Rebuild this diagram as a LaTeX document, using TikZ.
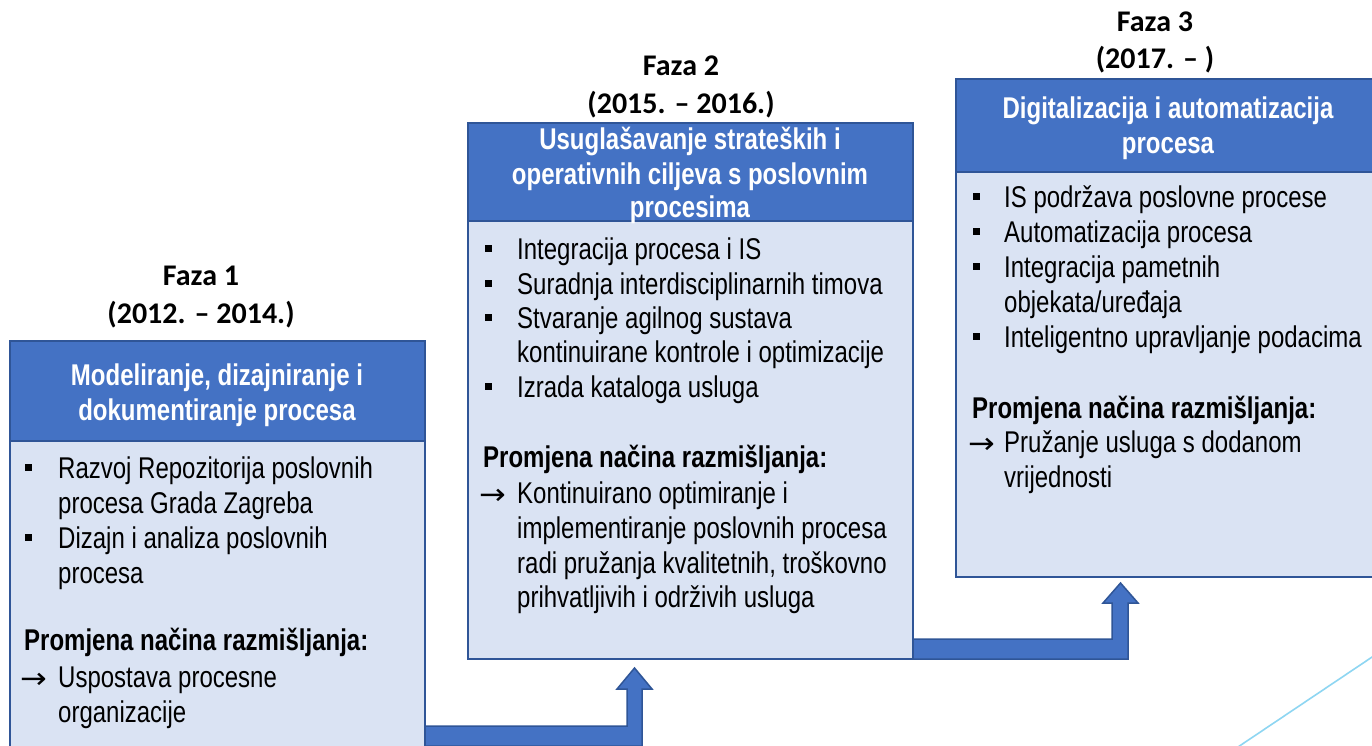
\documentclass[tikz,border=0pt]{standalone}
\usepackage{fontspec}
\newfontfamily\bodyfont{Liberation Sans}[FakeStretch=0.8]
\newfontfamily\fazafont{Carlito}
\newfontfamily\symfont{DejaVu Sans}[FakeStretch=1.1]
\definecolor{hdr}{HTML}{4472C4}
\definecolor{bodyfill}{HTML}{DAE3F3}
\definecolor{edge}{HTML}{2F5597}
\definecolor{sky}{HTML}{8ED6F2}
\tikzset{
 boxbody/.style={draw=edge, line width=1.8pt, fill=bodyfill, anchor=north west, inner sep=0pt, outer sep=0pt},
 boxhead/.style={draw=edge, line width=1.8pt, fill=hdr, anchor=north west, inner sep=0pt, outer sep=0pt},
 fazatxt/.style={font=\fazafont\bfseries\fontsize{30}{38}\selectfont, anchor=base, inner sep=0pt},
 headtxt/.style={font=\bodyfont\bfseries\fontsize{30}{35}\selectfont, text=white, anchor=base, inner sep=0pt},
 bodytxt/.style={font=\bodyfont\fontsize{30}{35}\selectfont, anchor=base west, inner sep=0pt},
 boldtxt/.style={font=\bodyfont\bfseries\fontsize{30}{35}\selectfont, anchor=base west, inner sep=0pt},
 arrtxt/.style={font=\symfont\fontsize{29}{29}\selectfont, anchor=base west, inner sep=0pt},
 bulletsq/.style={fill=black, minimum size=7pt, inner sep=0pt, anchor=center},
 flow/.style={fill=hdr, draw=edge, line width=1.5pt, line join=miter},
}
\begin{document}
\begin{tikzpicture}[x=1pt, y=-1pt]
\useasboundingbox (0,0) rectangle (1372,745);
\clip (0,0) rectangle (1372,745);
\fill[white] (0,0) rectangle (1372,745);

% decorative line
\draw[sky, line width=1.6pt] (1226,755) -- (1390,645);

% boxes
\node[boxbody, minimum width=415pt, minimum height=330pt] (b1body) at (10,441) {};
\node[boxhead, minimum width=415pt, minimum height=100pt] (b1head) at (10,341) {};
\node[boxbody, minimum width=445pt, minimum height=438pt] (b2body) at (468,221) {};
\node[boxhead, minimum width=445pt, minimum height=98pt] (b2head) at (468,123) {};
\node[boxbody, minimum width=430pt, minimum height=405pt] (b3body) at (956,172) {};
\node[boxhead, minimum width=430pt, minimum height=93pt] (b3head) at (956,79) {};

% bent arrows
\draw[flow] (b1body.east |- 0,726) -- (627,726) -- (627,689) -- (617,689) -- (634.5,668)
  -- (652,689) -- (642,689) -- (642,746) -- (b1body.east |- 0,746) -- cycle;
\draw[flow] (b2body.south east |- 0,639) -- (1112,639) -- (1112,603) -- (1103,603) -- (1120.5,583)
  -- (1138,603) -- (1128,603) -- (1128,659) -- (b2body.south east) -- cycle;

% phase titles
\node[fazatxt] (f1a) at (201,285) {Faza 1};
\node[fazatxt] (f1b) at (201,323) {(2012. – 2014.)};
\node[fazatxt] (f2a) at (681,75) {Faza 2};
\node[fazatxt] (f2b) at (681,113) {(2015. – 2016.)};
\node[fazatxt] (f3a) at (1155,31) {Faza 3};
\node[fazatxt] (f3b) at (1155,68) {(2017. – )};

% headers
\node[headtxt] (h1a) at (217,385) {Modeliranje, dizajniranje i};
\node[headtxt] (h1b) at (217,420) {dokumentiranje procesa};
\node[headtxt] (h2a) at (690,149) {Usuglašavanje strateških i};
\node[headtxt] (h2b) at (690,184) {operativnih ciljeva s poslovnim};
\node[headtxt] (h2c) at (690,217) {procesima};
\node[headtxt] (h3a) at (1168,118) {Digitalizacija i automatizacija};
\node[headtxt] (h3b) at (1168,153) {procesa};

% box 1 body
\node[bulletsq] (q1a) at (28,467) {};
\node[bodytxt] (t1a) at (58,478) {Razvoj Repozitorija poslovnih};
\node[bodytxt] (t1b) at (58,513) {procesa Grada Zagreba};
\node[bulletsq] (q1b) at (28,537) {};
\node[bodytxt] (t1c) at (58,548) {Dizajn i analiza poslovnih};
\node[bodytxt] (t1d) at (58,583) {procesa};
\node[boldtxt] (p1) at (24,650) {Promjena načina razmišljanja:};
\node[arrtxt] (r1) at (20,688) {→};
\node[bodytxt] (t1e) at (58,687) {Uspostava procesne};
\node[bodytxt] (t1f) at (58,722) {organizacije};

% box 2 body
\node[bulletsq] (q2a) at (488,248) {};
\node[bodytxt] (t2a) at (517,259) {Integracija procesa i IS};
\node[bulletsq] (q2b) at (488,283) {};
\node[bodytxt] (t2b) at (517,294) {Suradnja interdisciplinarnih timova};
\node[bulletsq] (q2c) at (488,317) {};
\node[bodytxt] (t2c) at (517,328) {Stvaranje agilnog sustava};
\node[bodytxt] (t2d) at (517,362) {kontinuirane kontrole i optimizacije};
\node[bulletsq] (q2d) at (488,386) {};
\node[bodytxt] (t2e) at (517,397) {Izrada kataloga usluga};
\node[boldtxt] (p2) at (483,467) {Promjena načina razmišljanja:};
\node[arrtxt] (r2) at (479,504) {→};
\node[bodytxt] (t2f) at (517,503) {Kontinuirano optimiranje i};
\node[bodytxt] (t2g) at (517,538) {implementiranje poslovnih procesa};
\node[bodytxt] (t2h) at (517,573) {radi pružanja kvalitetnih, troškovno};
\node[bodytxt] (t2i) at (517,607) {prihvatljivih i održivih usluga};

% box 3 body
\node[bulletsq] (q3a) at (976,196) {};
\node[bodytxt] (t3a) at (1004,207) {IS podržava poslovne procese};
\node[bulletsq] (q3b) at (976,231) {};
\node[bodytxt] (t3b) at (1004,242) {Automatizacija procesa};
\node[bulletsq] (q3c) at (976,266) {};
\node[bodytxt] (t3c) at (1004,277) {Integracija pametnih};
\node[bodytxt] (t3d) at (1004,312) {objekata/uređaja};
\node[bulletsq] (q3d) at (976,336) {};
\node[bodytxt] (t3e) at (1004,347) {Inteligentno upravljanje podacima};
\node[boldtxt] (p3) at (972,418) {Promjena načina razmišljanja:};
\node[arrtxt] (r3) at (968,453) {→};
\node[bodytxt] (t3f) at (1004,452) {Pružanje usluga s dodanom};
\node[bodytxt] (t3g) at (1004,487) {vrijednosti};
\end{tikzpicture}
\end{document}
